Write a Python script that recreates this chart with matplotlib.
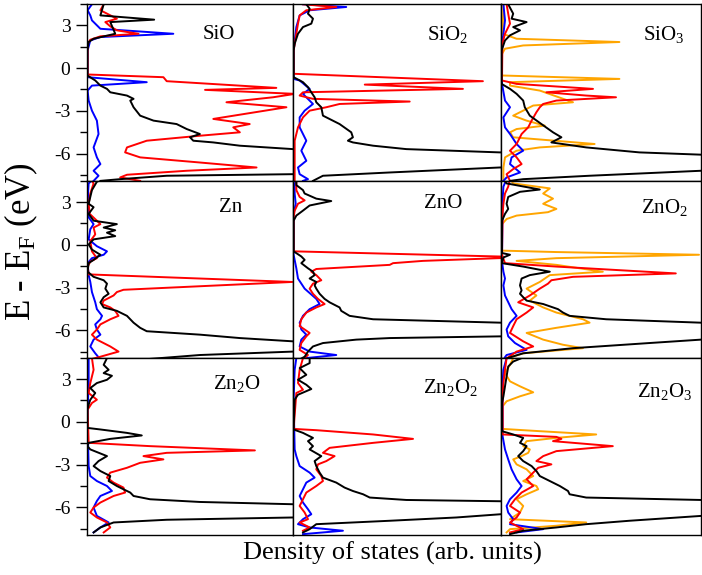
import matplotlib
matplotlib.use("Agg")
import matplotlib.pyplot as plt
from matplotlib.ticker import MultipleLocator, FixedLocator

plt.rcParams['font.family'] = ['Liberation Serif', 'DejaVu Serif']
plt.rcParams['font.serif'] = ['Liberation Serif', 'DejaVu Serif']
plt.rcParams['mathtext.default'] = 'regular'

# ---------------- data (energy in eV, DOS in arb. units) ----------------
titles = ["SiO", "SiO$_2$", "SiO$_3$", "Zn", "ZnO", "ZnO$_2$", "Zn$_2$O", "Zn$_2$O$_2$", "Zn$_2$O$_3$"]
yticks = [3, 0, -3, -6]
ytick_labels = ["3", "0", "-3", "-6"]

# SiO
sio_k_E = [4.48, 3.70, 3.40, 3.23, 2.69, 2.41, 2.06, 1.83, 1.24, -0.52, -0.87, -1.23, -1.46, -1.70, -1.93, -2.16, -2.28, -2.75, -3.34, -3.69, -3.93, -4.28, -4.63, -4.86, -5.10, -5.22, -5.45, -5.69, -5.92, -7.33, -7.45, -7.56, -7.80, -7.92]
sio_k_D = [8.1, 6.5, 32.6, 11.3, 12.9, 13.7, 3.2, 0.8, 0.2, 0.2, 4.0, 6.5, 9.7, 11.3, 19.4, 22.6, 21.0, 22.6, 25.8, 32.3, 43.5, 48.4, 54.8, 50.0, 51.6, 61.3, 74.2, 100, 200, 200, 100, 38.7, 16.1, 6.5]
sio_r_E = [4.48, 4.06, 3.47, 3.23, 2.93, 2.65, 2.41, 2.23, 1.99, 1.71, -0.45, -0.64, -0.92, -1.39, -1.53, -1.81, -2.05, -2.40, -2.75, -3.57, -3.93, -4.16, -4.51, -4.75, -5.10, -5.57, -5.92, -6.27, -6.63, -6.98, -7.21, -7.49, -7.68, -7.92]
sio_r_D = [8.1, 6.5, 14.5, 8.9, 11.3, 14.5, 25.0, 6.5, 1.6, 0.3, 0.3, 37.1, 38.7, 91.9, 57.3, 101, 90.3, 67.7, 96.8, 61.3, 79.0, 71.0, 74.2, 54.8, 29.0, 19.4, 18.5, 25.8, 54.8, 82.3, 48.4, 19.4, 16.1, 25.8]
sio_b_E = [4.48, 4.06, 3.70, 3.35, 2.76, 2.41, 2.18, 1.94, 1.24, -0.64, -0.99, -1.23, -1.58, -2.28, -2.99, -3.69, -4.63, -5.57, -6.27, -6.74, -7.21, -7.56, -7.92]
sio_b_D = [2.4, 0.3, 1.6, 2.4, 6.5, 41.9, 6.5, 1.6, 0.3, 0.3, 29.0, 2.4, 0.3, 0.8, 2.4, 4.8, 5.6, 3.2, 4.8, 6.5, 3.2, 5.6, 3.2]

# SiO2
sio2_k_E = [4.48, 4.17, 3.82, 3.47, 3.12, 2.88, 2.41, 1.71, 1.24, -0.64, -0.99, -1.34, -1.70, -2.05, -2.40, -2.75, -3.34, -3.93, -4.51, -4.86, -5.10, -5.22, -5.45, -5.69, -5.92, -6.10, -6.80, -6.98, -7.33, -7.56, -7.80, -7.92]
sio2_k_D = [6.4, 8.0, 7.2, 9.6, 8.8, 4.8, 2.4, 0.8, 0.3, 0.3, 4.8, 7.2, 8.8, 10.4, 11.2, 13.6, 14.4, 22.4, 28.0, 28.8, 26.4, 28.8, 38.5, 54.5, 99.4, 200, 200, 99.4, 46.5, 14.4, 11.2, 9.6]
sio2_r_E = [4.48, 4.29, 4.06, 3.70, 3.12, 2.41, 1.24, -0.40, -0.92, -1.16, -1.46, -1.70, -1.93, -2.16, -2.35, -2.52, -2.75, -2.99, -3.46, -4.16, -5.10, -7.92]
sio2_r_D = [4.8, 20.8, 6.4, 3.2, 2.4, 1.6, 0.3, 0.3, 91.3, 34.5, 81.7, 4.8, 3.2, 9.6, 56.1, 22.4, 16.0, 8.0, 4.8, 2.4, 0.8, 0.8]
sio2_b_E = [4.48, 4.29, 4.06, 3.70, 2.88, 1.24, -0.76, -0.87, -1.46, -1.81, -2.05, -2.52, -2.99, -3.46, -4.16, -5.10, -5.80, -6.51, -6.98, -7.45, -7.80, -7.92]
sio2_b_D = [4.8, 25.6, 8.0, 3.2, 1.6, 0.3, 0.3, 3.2, 8.0, 4.8, 6.4, 9.6, 5.6, 3.2, 3.2, 6.4, 4.0, 6.4, 2.4, 3.2, 7.2, 4.8]

# SiO3
sio3_k_E = [4.48, 3.82, 3.47, 3.23, 2.88, 2.65, 2.30, 1.94, 1.24, -1.11, -1.46, -1.81, -2.28, -2.75, -3.34, -3.93, -4.51, -4.86, -5.22, -5.57, -5.92, -6.08, -6.30, -7.00, -7.21, -7.56, -7.80, -7.92]
sio3_k_D = [3.6, 6.1, 5.3, 12.8, 6.1, 9.5, 4.5, 2.0, 0.3, 0.3, 4.5, 7.8, 11.1, 11.9, 14.4, 20.2, 26.0, 30.2, 25.2, 42.6, 69.2, 100, 200, 200, 100, 44.3, 11.1, 4.5]
sio3_r_E = [4.48, 3.82, 3.12, 2.41, 1.71, -0.87, -1.11, -1.46, -1.70, -1.93, -2.05, -2.28, -2.52, -2.75, -3.10, -3.69, -4.16, -4.63, -5.33, -5.80, -6.27, -6.74, -7.09, -7.45, -7.92]
sio3_r_D = [2.8, 3.6, 4.5, 2.0, 0.7, 0.5, 7.8, 46.0, 22.7, 42.6, 57.5, 27.7, 21.1, 19.4, 17.7, 15.3, 13.6, 10.3, 7.8, 4.5, 7.8, 10.3, 6.1, 2.8, 4.5]
sio3_b_E = [4.48, 3.35, 2.41, 1.71, -1.11, -2.28, -2.75, -3.46, -4.16, -4.63, -5.33, -5.80, -6.27, -6.74, -7.33, -7.68, -7.92]
sio3_b_D = [1.2, 2.0, 1.2, 0.5, 0.5, 2.0, 4.5, 1.2, 2.0, 4.5, 7.8, 11.1, 5.3, 4.5, 9.5, 2.8, 1.2]
sio3_o_E = [4.48, 2.41, 2.06, 1.83, 1.59, 1.36, 1.00, -0.52, -0.76, -0.99, -1.23, -1.58, -2.40, -2.63, -3.10, -3.34, -3.69, -4.04, -4.28, -4.51, -4.86, -5.33, -5.57, -5.80, -6.27, -6.98, -7.92]
sio3_o_D = [1.2, 0.8, 7.8, 59.2, 11.1, 2.0, 0.5, 0.5, 59.2, 4.5, 4.5, 19.4, 36.0, 16.1, 9.5, 6.1, 12.8, 21.9, 7.8, 4.5, 6.1, 46.8, 19.4, 7.8, 2.0, 1.2, 1.2]

# Zn
zn_k_E = [4.62, 4.43, 3.84, 2.88, 2.64, 2.17, 1.69, 1.45, 1.21, 1.02, 0.85, 0.61, 0.38, 0.02, -0.34, -0.70, -1.06, -1.29, -1.89, -2.25, -2.49, -2.73, -3.08, -3.44, -3.68, -4.04, -4.40, -4.64, -4.99, -5.47, -5.83, -6.07, -6.31, -6.55, -6.78, -7.00, -7.30, -7.50, -7.74, -8.05]
zn_k_D = [8.1, 4.8, 2.4, 0.8, 3.2, 0.8, 3.2, 14.5, 8.1, 13.7, 9.7, 13.7, 3.2, 0.8, 2.4, 6.5, 3.2, 0.8, 0.3, 3.2, 8.1, 9.7, 8.9, 10.5, 8.1, 6.5, 8.1, 14.5, 19.4, 22.6, 25.8, 29.0, 54.8, 74.2, 100, 200, 200, 100, 54.8, 27.4]
zn_r_E = [4.62, 4.31, 3.60, 2.88, 2.17, 1.69, 1.45, 1.21, 0.73, 0.26, -0.46, -0.94, -1.18, -1.53, -2.08, -2.61, -3.16, -3.32, -3.56, -3.92, -4.16, -4.40, -4.64, -4.99, -5.23, -5.59, -5.95, -6.31, -6.66, -7.14, -7.50, -7.86, -8.05]
zn_r_D = [1.6, 3.2, 1.6, 0.8, 1.3, 4.8, 6.5, 3.2, 4.0, 1.6, 2.4, 4.8, 1.6, 0.3, 0.8, 99.7, 17.7, 14.5, 12.9, 8.1, 7.3, 11.3, 13.7, 15.3, 11.3, 6.5, 4.8, 2.4, 4.8, 11.3, 15.3, 6.5, 1.6]
zn_b_E = [4.62, 4.31, 3.60, 1.93, 1.45, 1.09, 0.38, -0.10, -0.46, -0.70, -0.94, -1.29, -2.13, -2.61, -3.32, -4.04, -4.52, -4.99, -5.23, -5.59, -5.95, -6.31, -6.66, -7.14, -7.62, -8.05]
zn_b_D = [3.2, 0.8, 0.5, 0.8, 3.2, 1.6, 0.8, 4.8, 9.7, 8.1, 2.4, 0.3, 0.8, 1.6, 2.4, 4.0, 4.8, 7.3, 6.5, 4.0, 4.8, 6.5, 3.2, 1.6, 4.0, 6.5]

# ZnO
zno_k_E = [4.62, 4.19, 3.84, 3.60, 3.24, 3.07, 2.76, 2.40, 2.05, 1.69, -0.46, -0.82, -1.06, -1.29, -1.65, -1.89, -2.13, -2.37, -2.61, -2.85, -3.08, -3.44, -3.80, -4.04, -4.40, -4.64, -4.99, -5.23, -5.47, -5.70, -6.20, -6.43, -6.55, -6.66, -6.90, -7.14, -7.50, -7.86, -8.05]
zno_k_D = [1.6, 1.6, 4.8, 5.6, 11.2, 18.4, 8.0, 4.8, 1.6, 0.3, 0.3, 4.0, 5.6, 4.0, 7.2, 9.6, 10.4, 8.0, 11.2, 10.4, 11.2, 12.8, 15.2, 17.6, 22.4, 23.2, 27.2, 38.5, 100, 200, 200, 100, 46.5, 30.4, 14.4, 9.6, 7.2, 5.6, 3.2]
zno_r_E = [4.62, 3.84, 3.36, 3.12, 2.88, 2.40, 1.93, -0.46, -0.87, -1.13, -1.29, -1.41, -1.70, -1.89, -2.13, -2.49, -2.73, -3.08, -3.44, -3.80, -4.16, -4.40, -4.76, -5.23, -5.71, -6.19, -6.43, -6.90, -7.38, -7.74, -8.05]
zno_r_D = [1.6, 1.6, 3.2, 5.6, 2.4, 0.8, 0.3, 0.3, 112, 62.5, 48.1, 46.5, 11.2, 8.8, 11.2, 13.6, 9.6, 8.0, 9.6, 12.0, 15.2, 11.2, 6.4, 4.0, 3.2, 8.0, 6.4, 4.0, 3.2, 7.2, 4.8]
zno_b_E = [4.62, 4.31, 3.60, 2.88, 2.17, -0.70, -1.65, -2.37, -3.08, -3.80, -4.16, -4.52, -4.99, -5.47, -5.95, -6.31, -6.66, -7.14, -7.50, -7.74, -7.98]
zno_b_D = [2.4, 0.8, 0.8, 1.3, 0.3, 0.3, 1.6, 2.4, 5.6, 11.2, 12.8, 8.0, 4.8, 3.2, 4.0, 6.4, 4.0, 3.2, 8.0, 20.8, 4.8]

# ZnO2
zno2_k_E = [4.62, 4.31, 3.88, 3.72, 3.36, 2.88, 2.52, 2.17, 1.69, -0.58, -0.70, -0.89, -1.29, -1.53, -1.89, -2.13, -2.37, -2.85, -3.20, -3.44, -3.68, -3.92, -4.16, -4.52, -4.76, -4.99, -5.23, -5.47, -5.70, -6.40, -6.66, -6.90, -7.26, -7.62, -7.98]
zno2_k_D = [1.2, 2.8, 19.4, 9.5, 3.6, 2.8, 3.6, 2.0, 0.5, 0.5, 4.5, 1.2, 0.5, 11.1, 24.4, 14.4, 10.3, 9.5, 10.3, 9.5, 11.1, 12.8, 21.1, 28.5, 31.0, 34.3, 52.6, 100, 200, 200, 100, 74.1, 36.0, 11.1, 2.8]
zno2_r_E = [4.62, 4.08, 3.60, 2.88, 2.17, -0.70, -1.29, -1.53, -2.01, -2.25, -2.49, -2.73, -3.08, -3.56, -4.04, -4.40, -4.76, -5.23, -5.71, -6.19, -6.78, -7.14, -7.50, -7.98]
zno2_r_D = [4.5, 3.6, 2.0, 1.2, 0.8, 0.5, 2.0, 27.7, 87.4, 36.0, 25.2, 23.5, 19.4, 14.4, 8.6, 16.1, 12.8, 7.8, 6.1, 4.5, 11.1, 16.1, 7.8, 2.8]
zno2_b_E = [4.62, 4.08, 3.12, -1.18, -1.89, -2.37, -2.85, -3.56, -4.52, -4.99, -5.47, -5.95, -6.43, -6.90, -7.38, -7.74, -8.05]
zno2_b_D = [2.8, 1.2, 0.8, 0.5, 1.2, 2.0, 1.2, 2.0, 5.3, 7.8, 4.5, 2.8, 3.6, 7.0, 12.8, 2.8, 1.2]
zno2_o_E = [4.62, 4.31, 3.96, 3.60, 3.24, 2.88, 2.52, 2.29, 2.05, 1.81, 1.45, -0.41, -0.51, -0.70, -0.94, -1.13, -1.41, -1.89, -2.13, -2.61, -3.08, -3.56, -3.92, -4.40, -4.76, -5.23, -5.47, -5.83, -6.19, -6.66, -7.02, -7.26, -7.62, -7.98]
zno2_o_D = [4.5, 6.1, 24.4, 21.1, 26.0, 21.1, 27.7, 23.5, 7.8, 2.8, 0.5, 0.5, 27.7, 99.0, 27.7, 7.8, 27.7, 50.9, 24.4, 19.4, 12.8, 17.7, 14.4, 21.1, 27.7, 41.0, 44.3, 27.7, 12.8, 21.1, 31.0, 41.0, 11.1, 2.8]

# Zn2O
zn2o_k_E = [4.47, 4.00, 3.65, 3.42, 3.23, 2.95, 2.72, 2.37, 2.02, 1.55, 1.20, 0.85, -0.43, -0.54, -0.78, -0.96, -1.20, -1.48, -1.71, -1.94, -2.41, -2.76, -3.11, -3.46, -3.81, -4.16, -4.51, -4.74, -4.97, -5.21, -5.44, -5.63, -5.79, -6.00, -6.50, -6.72, -6.88, -7.07, -7.42, -7.77]
zn2o_k_D = [9.7, 8.1, 10.5, 8.1, 12.1, 9.7, 4.8, 1.6, 4.0, 1.6, 0.8, 0.2, 0.2, 6.5, 19.4, 26.6, 11.3, 0.8, 0.2, 1.6, 9.7, 5.6, 3.2, 6.5, 11.3, 10.5, 14.5, 17.7, 21.0, 22.6, 30.6, 54.8, 100, 200, 200, 100, 38.7, 12.9, 6.5, 3.2]
zn2o_r_E = [4.47, 3.65, 2.72, 2.02, 1.55, 1.32, 0.85, -1.48, -1.71, -2.01, -2.18, -2.41, -2.64, -2.88, -3.23, -3.57, -3.92, -4.27, -4.62, -4.97, -5.21, -5.67, -6.02, -6.37, -6.72, -7.07, -7.42, -7.77]
zn2o_r_D = [2.4, 3.2, 1.6, 0.8, 4.8, 2.4, 0.3, 0.8, 30.6, 81.5, 38.7, 27.4, 37.1, 25.8, 19.4, 11.3, 9.7, 12.9, 17.7, 18.5, 12.9, 6.5, 3.2, 1.6, 4.8, 9.7, 11.3, 8.1]
zn2o_b_E = [4.47, 2.72, 0.39, -3.11, -3.81, -4.16, -4.51, -4.86, -5.21, -5.56, -6.02, -6.61, -7.07, -7.42, -7.77]
zn2o_b_D = [0.8, 0.8, 0.2, 0.8, 1.6, 4.8, 9.7, 12.1, 6.5, 4.8, 3.2, 4.8, 10.5, 6.5, 3.2]

# Zn2O2
zn2o2_k_E = [4.47, 4.12, 3.77, 3.30, 2.95, 2.60, 2.30, 1.90, 1.55, -0.54, -0.78, -1.13, -1.36, -1.71, -1.94, -2.41, -2.76, -3.11, -3.57, -3.92, -4.27, -4.62, -4.86, -5.09, -5.32, -5.49, -5.58, -5.80, -6.30, -6.49, -6.72, -6.95, -7.19, -7.54, -7.77]
zn2o2_k_D = [8.0, 8.0, 3.2, 6.4, 2.4, 6.4, 8.8, 2.4, 0.8, 0.3, 4.8, 9.6, 7.2, 9.6, 8.0, 13.6, 10.4, 11.2, 12.8, 14.4, 20.8, 24.8, 28.8, 33.7, 36.9, 54.5, 100, 200, 200, 100, 78.5, 46.5, 11.2, 8.0, 4.8]
zn2o2_r_E = [4.47, 3.65, 2.72, 2.25, 2.02, -0.50, -0.59, -0.89, -1.20, -1.48, -1.83, -2.18, -2.41, -2.76, -2.99, -3.34, -3.81, -4.16, -4.51, -4.97, -5.44, -5.91, -6.37, -6.84, -7.07, -7.42, -7.65]
zn2o2_r_D = [4.8, 3.2, 2.4, 4.8, 1.6, 0.3, 11.2, 38.5, 57.7, 38.5, 17.6, 14.4, 20.0, 16.0, 12.0, 11.2, 13.6, 14.4, 11.2, 6.4, 4.8, 3.2, 5.6, 7.2, 3.2, 8.0, 4.8]
zn2o2_b_E = [4.47, 3.65, 1.55, -1.94, -2.41, -3.11, -3.57, -3.92, -4.27, -4.74, -5.21, -5.67, -6.14, -6.49, -6.84, -7.19, -7.42, -7.65, -7.89]
zn2o2_b_D = [1.6, 0.8, 0.3, 0.8, 1.6, 3.2, 8.0, 10.4, 6.4, 4.8, 3.2, 4.8, 7.2, 8.8, 4.8, 2.4, 8.0, 24.0, 4.8]

# Zn2O3
zn2o3_k_E = [4.47, 4.23, 3.88, 3.19, 2.49, 1.79, 1.32, -0.66, -0.89, -1.13, -1.48, -1.71, -2.06, -2.41, -2.76, -3.11, -3.46, -3.81, -4.16, -4.51, -4.86, -5.09, -5.32, -5.49, -5.70, -6.40, -6.61, -6.95, -7.19, -7.42, -7.65, -7.89]
zn2o3_k_D = [10.3, 6.1, 3.6, 2.8, 2.0, 1.2, 0.5, 0.5, 6.1, 11.1, 9.5, 12.8, 11.1, 8.6, 11.1, 15.3, 17.7, 19.4, 24.4, 29.4, 33.5, 34.3, 42.6, 100, 200, 200, 100, 64.2, 42.6, 27.7, 11.1, 4.5]
zn2o3_r_E = [4.47, 3.65, 2.72, 2.02, -0.89, -1.06, -1.20, -1.36, -1.71, -2.06, -2.41, -2.76, -2.99, -3.23, -3.57, -4.04, -4.51, -4.97, -5.44, -5.91, -6.37, -6.72, -7.07, -7.54, -7.77]
zn2o3_r_D = [2.8, 2.0, 1.2, 0.8, 0.8, 27.7, 30.2, 26.0, 55.9, 27.7, 21.1, 17.7, 25.2, 18.6, 16.1, 12.8, 16.1, 10.3, 7.0, 4.5, 9.5, 7.8, 4.5, 11.1, 4.5]
zn2o3_b_E = [4.47, 3.65, 2.72, -1.01, -1.94, -2.64, -3.34, -4.04, -4.51, -4.97, -5.44, -5.91, -6.37, -6.84, -7.19, -7.54, -7.77]
zn2o3_b_D = [2.8, 1.2, 0.8, 0.8, 2.0, 3.6, 5.3, 7.8, 10.3, 7.8, 4.5, 2.8, 3.6, 6.1, 4.5, 21.1, 7.8]
zn2o3_o_E = [4.47, 4.00, 3.42, 2.84, 2.49, 2.07, 1.79, 1.44, 1.09, -0.50, -0.66, -0.89, -1.13, -1.36, -1.71, -1.94, -2.18, -2.41, -2.64, -2.99, -3.34, -3.81, -4.16, -4.51, -4.74, -5.09, -5.44, -5.91, -6.37, -6.84, -7.07, -7.30, -7.54, -7.77]
zn2o3_o_D = [6.1, 4.5, 2.0, 4.5, 9.5, 16.1, 9.5, 2.8, 0.8, 0.8, 19.4, 47.6, 27.7, 12.8, 11.1, 14.4, 13.6, 10.3, 6.1, 7.8, 12.8, 16.1, 11.1, 17.7, 18.6, 12.8, 7.8, 11.1, 9.5, 4.5, 42.6, 27.7, 4.5, 2.8]

# ---------------- figure ----------------
BLACK, RED, BLUE, ORANGE = "black", "#ff0000", "#0000ff", "#ffa500"
SERIF = ['Liberation Serif', 'DejaVu Serif']

panels = [
    [(sio_b_E, sio_b_D, BLUE), (sio_r_E, sio_r_D, RED), (sio_k_E, sio_k_D, BLACK)],
    [(sio2_b_E, sio2_b_D, BLUE), (sio2_r_E, sio2_r_D, RED), (sio2_k_E, sio2_k_D, BLACK)],
    [(sio3_o_E, sio3_o_D, ORANGE), (sio3_b_E, sio3_b_D, BLUE), (sio3_r_E, sio3_r_D, RED), (sio3_k_E, sio3_k_D, BLACK)],
    [(zn_b_E, zn_b_D, BLUE), (zn_r_E, zn_r_D, RED), (zn_k_E, zn_k_D, BLACK)],
    [(zno_b_E, zno_b_D, BLUE), (zno_r_E, zno_r_D, RED), (zno_k_E, zno_k_D, BLACK)],
    [(zno2_o_E, zno2_o_D, ORANGE), (zno2_b_E, zno2_b_D, BLUE), (zno2_r_E, zno2_r_D, RED), (zno2_k_E, zno2_k_D, BLACK)],
    [(zn2o_b_E, zn2o_b_D, BLUE), (zn2o_r_E, zn2o_r_D, RED), (zn2o_k_E, zn2o_k_D, BLACK)],
    [(zn2o2_b_E, zn2o2_b_D, BLUE), (zn2o2_r_E, zn2o2_r_D, RED), (zn2o2_k_E, zn2o2_k_D, BLACK)],
    [(zn2o3_o_E, zn2o3_o_D, ORANGE), (zn2o3_b_E, zn2o3_b_D, BLUE), (zn2o3_r_E, zn2o3_r_D, RED), (zn2o3_k_E, zn2o3_k_D, BLACK)],
]

label_pos = [(0.56, 0.83), (0.645, 0.83), (0.71, 0.83),
             (0.64, 0.85), (0.63, 0.87), (0.70, 0.85),
             (0.61, 0.855), (0.625, 0.83), (0.68, 0.81)]

W, H = 702, 575
fig = plt.figure(figsize=(W / 100, H / 100), dpi=100)

col_left = [87, 293, 501]
col_w = [206, 208, 200]
row_top = [4, 180.7, 357.7]
row_h = 177.3

for i, curves in enumerate(panels):
    r, c = divmod(i, 3)
    ax = fig.add_axes([col_left[c] / W, 1 - (row_top[r] + row_h) / H, col_w[c] / W, row_h / H])
    for E, D, col in curves:
        ax.plot(D, E, color=col, lw=1.4, solid_joinstyle='round')
    ax.set_xlim(0, 100)
    ax.set_ylim(-7.95, 4.5)
    ax.set_xticks([])
    for s in ax.spines.values():
        s.set_linewidth(1.0)
    if c == 0:
        ax.yaxis.set_major_locator(FixedLocator(yticks))
        ax.set_yticklabels(ytick_labels, fontfamily=SERIF, fontsize=14)
        ax.yaxis.set_minor_locator(MultipleLocator(1.5))
        ax.tick_params(axis='y', which='major', direction='out', length=8, width=1.0, pad=4)
        ax.tick_params(axis='y', which='minor', direction='out', length=5, width=1.0)
    else:
        ax.set_yticks([])
        ax.yaxis.set_minor_locator(FixedLocator([]))
    ax.text(label_pos[i][0], label_pos[i][1], titles[i], transform=ax.transAxes,
            fontsize=15, ha='left', va='center', fontfamily=SERIF)

fig.text(21 / W, 1 - 242 / H, "E - E$_F$ (eV)", rotation=90, ha='center', va='center',
         fontsize=25, fontfamily=SERIF)
fig.text(392 / W, 1 - 553 / H, "Density of states (arb. units)", ha='center', va='center',
         fontsize=19, fontfamily=SERIF)

fig.savefig("out.png", dpi=100)
